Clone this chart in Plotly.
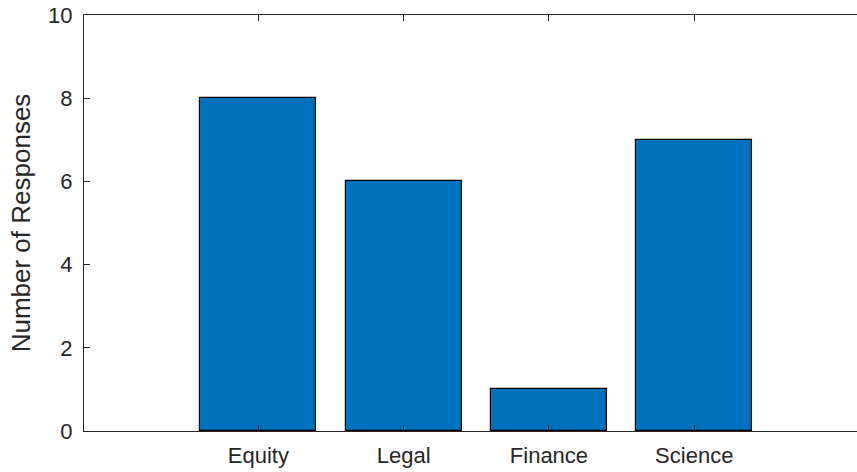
import plotly.graph_objects as go

categories = ["Equity", "Legal", "Finance", "Science"]
positions = [1, 2, 3, 4]
responses = [8, 6, 1, 7]
y_ticks = [0, 2, 4, 6, 8, 10]

fig = go.Figure()
fig.add_trace(go.Bar(
    x=positions, y=responses, width=0.8,
    marker=dict(color="#0072BD", line=dict(color="#000000", width=1.2)),
    showlegend=False, hoverinfo="skip",
))

font_fam = "Liberation Sans, Arial, sans-serif"
axcol = "#262626"
fig.update_layout(
    width=857, height=472,
    margin=dict(l=84, r=0, t=15, b=41),
    paper_bgcolor="white", plot_bgcolor="white",
    font=dict(family=font_fam, size=22, color=axcol),
    bargap=0,
    xaxis=dict(
        range=[-0.2, 5.12], tickvals=positions, ticktext=categories,
        showline=True, linecolor=axcol, linewidth=1.3, mirror="ticks",
        ticks="inside", ticklen=6, tickcolor=axcol, tickwidth=1.2,
        showgrid=False, zeroline=False, fixedrange=True,
        ticklabelstandoff=4,
    ),
    yaxis=dict(
        range=[0, 10], tickvals=y_ticks,
        showline=True, linecolor=axcol, linewidth=1.3, mirror=False,
        ticks="inside", ticklen=6, tickcolor=axcol, tickwidth=1.2,
        showgrid=False, zeroline=False, fixedrange=True,
        title=dict(text="Number of Responses", font=dict(size=26), standoff=9),
        ticklabelstandoff=6,
    ),
)
fig.write_html(
    "out.html",
    config={"displayModeBar": False},
    post_script="document.body.style.margin='0';document.body.style.overflow='hidden';",
)
